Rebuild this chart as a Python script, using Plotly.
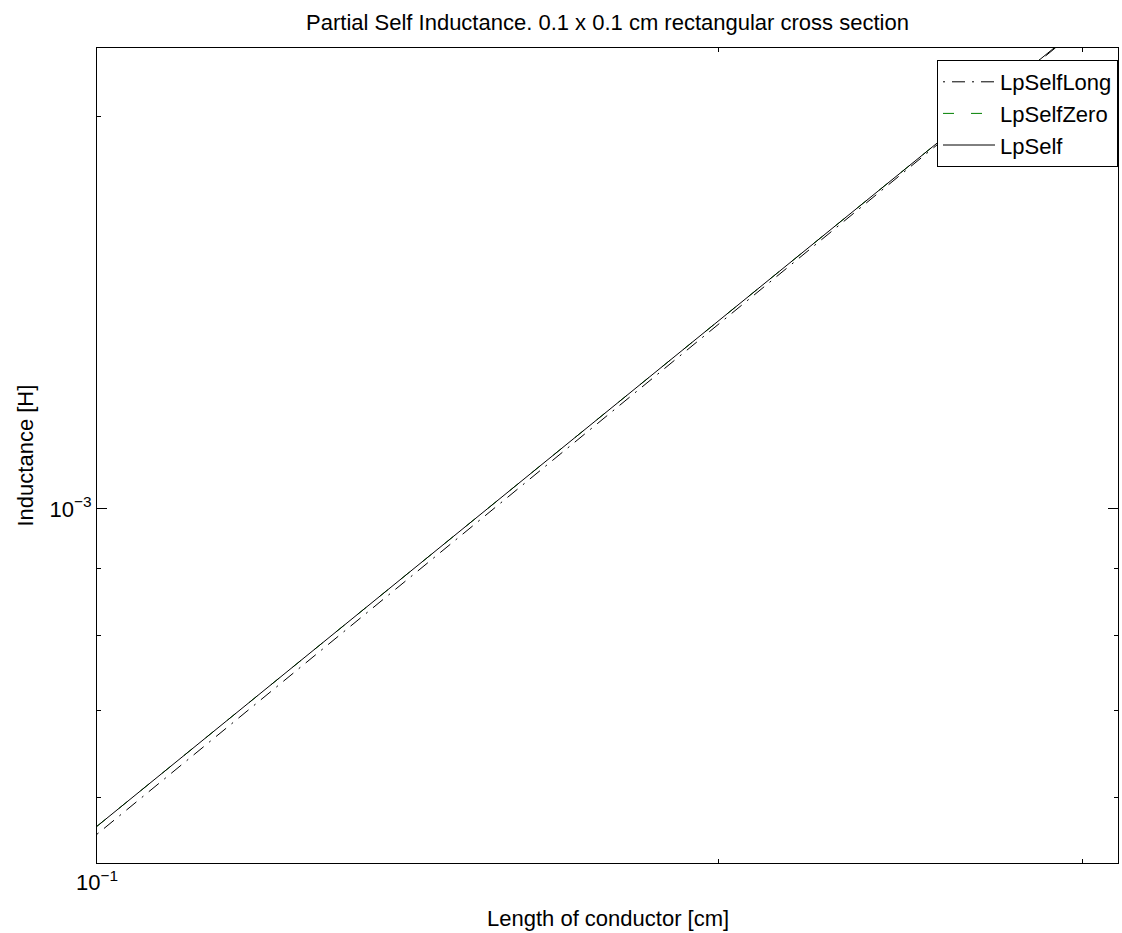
import plotly.graph_objects as go

# ---- data ----
lengths = [0.10, 0.12, 0.14, 0.16, 0.18, 0.20, 0.22, 0.24, 0.26, 0.28, 0.30, 0.32]
lp_self_long = [5.626e-4, 7.133e-4, 8.722e-4, 1.0381e-3, 1.2101e-3, 1.389e-3,
                1.5727e-3, 1.7603e-3, 1.9531e-3, 2.1497e-3, 2.3508e-3, 2.5552e-3]
lp_self_zero = [5.706e-4, 7.22e-4, 8.81e-4, 1.047e-3, 1.218e-3, 1.396e-3,
                1.579e-3, 1.766e-3, 1.958e-3, 2.154e-3, 2.355e-3, 2.559e-3]
lp_self = [5.706e-4, 7.22e-4, 8.81e-4, 1.047e-3, 1.218e-3, 1.396e-3,
           1.579e-3, 1.766e-3, 1.958e-3, 2.154e-3, 2.355e-3, 2.559e-3]

x_major = [0.1]
x_major_text = ["10<sup>−1</sup>"]
x_minor = [0.2, 0.3]
y_major = [1e-3]
y_major_text = ["10<sup>−3</sup>"]
y_minor = [6e-4, 7e-4, 8e-4, 9e-4, 2e-3]

title_text = "Partial Self Inductance. 0.1 x 0.1 cm rectangular cross section"
x_title = "Length of conductor [cm]"
y_title = "Inductance [H]"

FONT = "Liberation Sans, Arial, Helvetica, sans-serif"
FS = 22

fig = go.Figure()
fig.add_trace(go.Scatter(x=lengths, y=lp_self_long, mode="lines", name="LpSelfLong",
                         line=dict(color="black", width=1, dash="2px,7px,13px,7px")))
fig.add_trace(go.Scatter(x=lengths, y=lp_self_zero, mode="lines", name="LpSelfZero",
                         line=dict(color="#008000", width=1, dash="11px,17px")))
fig.add_trace(go.Scatter(x=lengths, y=lp_self, mode="lines", name="LpSelf",
                         line=dict(color="black", width=1)))

L, R, T, B = 97, 4, 48, 70
W, H = 1122, 933
ph = H - T - B
pw = W - L - R

axis_common = dict(
    type="log", showline=True, linecolor="black", linewidth=1, mirror="ticks",
    ticks="inside", ticklen=10, tickwidth=1, tickcolor="black",
    showgrid=False, zeroline=False, tickmode="array",
    tickfont=dict(family=FONT, size=FS, color="black"),
)

fig.update_layout(
    width=W, height=H,
    margin=dict(l=L, r=R, t=T, b=B, pad=0),
    paper_bgcolor="white", plot_bgcolor="white",
    font=dict(family=FONT, size=FS, color="black"),
    title=dict(text=title_text, x=0.5, xref="paper", xanchor="center",
               y=1 - 22 / H, yref="container", yanchor="middle",
               font=dict(family=FONT, size=FS, color="black")),
    xaxis=dict(axis_common, range=[-1, -0.5058], tickvals=x_major, ticktext=x_major_text,
               minor=dict(tickmode="array", tickvals=x_minor, ticks="inside", ticklen=4,
                          tickcolor="black", tickwidth=1, showgrid=False)),
    yaxis=dict(axis_common, range=[-3.2719, -2.646], tickvals=y_major, ticktext=y_major_text,
               minor=dict(tickmode="array", tickvals=y_minor, ticks="inside", ticklen=4,
                          tickcolor="black", tickwidth=1, showgrid=False)),
    showlegend=True,
    legend=dict(x=1, xanchor="right", xref="paper", y=1 - 12 / ph, yanchor="top",
                bgcolor="white", bordercolor="black", borderwidth=1,
                font=dict(family=FONT, size=FS, color="black"),
                itemwidth=52, tracegroupgap=0),
    annotations=[
        dict(text=x_title, xref="paper", yref="paper", x=0.5, y=(863 - 918) / ph,
             xanchor="center", yanchor="middle", showarrow=False,
             font=dict(family=FONT, size=FS, color="black")),
        dict(text=y_title, xref="paper", yref="paper", x=(25 - L) / pw, y=0.5,
             xanchor="center", yanchor="middle", textangle=-90, showarrow=False,
             font=dict(family=FONT, size=FS, color="black")),
    ],
)

fig.write_html("out.html")
